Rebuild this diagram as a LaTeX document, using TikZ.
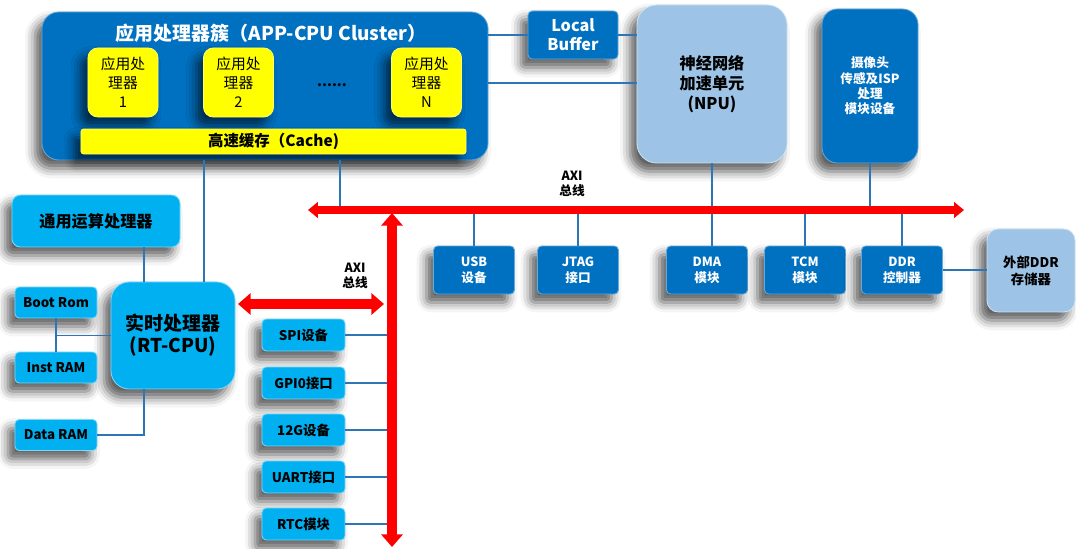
\documentclass[tikz,border=0pt]{standalone}
\usepackage{fontspec}
\setmainfont{Noto Sans CJK SC}
\usetikzlibrary{arrows.meta,shadows.blur}

\definecolor{appblue}{HTML}{0070C0}
\definecolor{rtcyan}{HTML}{00B0F0}
\definecolor{npublue}{HTML}{9DC3E6}
\definecolor{coreyel}{HTML}{FFFF00}
\definecolor{linkblue}{HTML}{2E75B6}

\tikzset{
  blk/.style={rounded corners=3pt, align=center, inner sep=1pt, line width=.6pt,
    blur shadow={shadow xshift=-5pt, shadow yshift=-6pt, shadow blur radius=7pt, shadow opacity=65}},
  darkblk/.style={blk, fill=appblue, draw=appblue!60!white, text=white},
  cyanblk/.style={blk, fill=rtcyan, draw=rtcyan!50!white, text=black},
  lightblk/.style={blk, fill=npublue, draw=npublue!50!white, text=black},
  coreblk/.style={blk, fill=coreyel, draw=coreyel!60!white, rounded corners=7pt, text=black,
    minimum width=1.75cm, minimum height=1.725cm, font=\fontsize{10.5}{13.5}\selectfont},
  iodev/.style={cyanblk, minimum width=2.075cm, minimum height=.8cm, font=\bfseries\fontsize{9.5}{11}\selectfont},
  memblk/.style={cyanblk, minimum width=2.05cm, minimum height=.775cm, font=\bfseries\fontsize{9.5}{11}\selectfont},
  busdev/.style={darkblk, minimum width=2.025cm, minimum height=1.2cm, font=\bfseries\fontsize{9}{11.5}\selectfont},
  link/.style={draw=linkblue, line width=1pt},
  bus/.style={draw=red, line width=5pt, {Triangle[length=7pt,width=11pt]}-{Triangle[length=7pt,width=11pt]}},
  bigbus/.style={draw=red, line width=6.5pt, {Triangle[length=9pt,width=15pt]}-{Triangle[length=9pt,width=15pt]}},
  buslabel/.style={align=center, text=black, font=\bfseries\fontsize{9}{11}\selectfont}
}

\begin{document}
\begin{tikzpicture}[x=0.025cm, y=-0.025cm]
\useasboundingbox (0,0) rectangle (1076,548);

% APP-CPU cluster
\node [darkblk, rounded corners=12pt, minimum width=11.15cm, minimum height=3.7cm] (app) at (265,86) {};
\node [text=white, font=\bfseries\fontsize{13.5}{15}\selectfont] (apptitle) at (271,33) {应用处理器簇（APP-CPU Cluster）};
\node [coreblk] (core1) at (123,82.5) {应用处\\理器\\1};
\node [coreblk] (core2) at (238.5,82.5) {应用处\\理器\\2};
\node [coreblk] (coren) at (426.5,82.5) {应用处\\理器\\N};
\node [text=black, font=\bfseries] (dots) at (332,85) {......};
\node [blk, fill=coreyel, draw=coreyel!60!white, rounded corners=2pt, minimum width=9.625cm, minimum height=.625cm,
  font=\bfseries\fontsize{11}{12}\selectfont] (cache) at (273.5,141.5) {高速缓存（Cache)};

% NPU side
\node [darkblk, minimum width=2.25cm, minimum height=1.2cm, font=\bfseries\fontsize{11.5}{13.5}\selectfont] (buf) at (573,35) {Local\\Buffer};
\node [lightblk, rounded corners=14pt, minimum width=3.75cm, minimum height=3.95cm, font=\bfseries\fontsize{11.5}{14}\selectfont] (npu) at (712,84) {神经网络\\加速单元\\(NPU)};
\node [darkblk, rounded corners=11pt, minimum width=2.4cm, minimum height=3.85cm, font=\bfseries\fontsize{9}{11}\selectfont] (cam) at (870,86) {摄像头\\传感及ISP\\处理\\模块设备};

% real-time side
\node [cyanblk, rounded corners=6pt, minimum width=4.2cm, minimum height=1.3cm, font=\bfseries\fontsize{11.5}{13}\selectfont] (gp) at (96,221) {通用运算处理器};
\node [cyanblk, rounded corners=13pt, minimum width=3.1cm, minimum height=2.675cm, font=\bfseries\fontsize{13.5}{15.5}\selectfont] (rt) at (173,335.5) {实时处理器\\(RT-CPU)};
\node [memblk] (boot) at (56,302.5) {Boot Rom};
\node [memblk] (inst) at (56,367.5) {Inst RAM};
\node [memblk] (data) at (56,435) {Data RAM};

% devices on the vertical bus
\node [iodev] (spi) at (303.5,335) {SPI设备};
\node [iodev] (gpio) at (303.5,383) {GPI0接口};
\node [iodev] (ig) at (303.5,430) {12G设备};
\node [iodev] (uart) at (303.5,477) {UART接口};
\node [iodev] (rtc) at (303.5,524) {RTC模块};

% devices on the horizontal bus
\node [busdev] (usb) at (474,270) {USB\\设备};
\node [busdev] (jtag) at (578,270) {JTAG\\接口};
\node [busdev] (dma) at (707,270) {DMA\\模块};
\node [busdev] (tcm) at (805,270) {TCM\\模块};
\node [busdev] (ddr) at (902,270) {DDR\\控制器};
\node [lightblk, rounded corners=8pt, minimum width=2.2cm, minimum height=2.075cm, font=\bfseries\fontsize{9.5}{12}\selectfont] (ext) at (1031,270.5) {外部DDR\\存储器};

% bus ends
\coordinate (bl) at (308,210);
\coordinate (br) at (964,210);
\coordinate (vt) at (392,213);
\coordinate (vb) at (392,547);
\coordinate (ra) at (238,304);
\coordinate (rb) at (384,304);

% links
\draw [link] (app.east |- buf.west) -- (buf.west);
\draw [link] (buf.east) -- (buf.east -| npu.west);
\draw [link] (app.east |- 0,83) -- (npu.west |- 0,83);
\draw [link] (204,0 |- app.south) -- (204,0 |- rt.north);
\draw [link] (340,0 |- app.south) -- (340,0 |- bl);
\draw [link] (npu.south) -- (npu.south |- dma.north);
\draw [link] (cam.south) -- (cam.south |- bl);
\foreach \d in {usb,jtag,tcm,ddr}
  \draw [link] (\d.north) -- (\d.north |- bl);
\draw [link] (ddr.east) -- (ddr.east -| ext.west);
\draw [link] (144,0 |- gp.south) -- (144,0 |- rt.north);
\draw [link] (boot) -- (inst);
\draw [link] (boot.south |- rt.west) -- (rt.west);
\draw [link] (data.east) -| (144,0 |- rt.south);
\foreach \d in {spi,gpio,ig,uart,rtc}
  \draw [link] (\d.east) -- (\d.east -| vt);

% AXI buses
\draw [bus] (bl) -- (br);
\draw [bigbus] (vt) -- (vb);
\draw [bigbus] (ra) -- (rb);
\node [buslabel] (axi1) at (572,184) {AXI\\总线};
\node [buslabel] (axi2) at (355,276) {AXI\\总线};

\end{tikzpicture}
\end{document}
